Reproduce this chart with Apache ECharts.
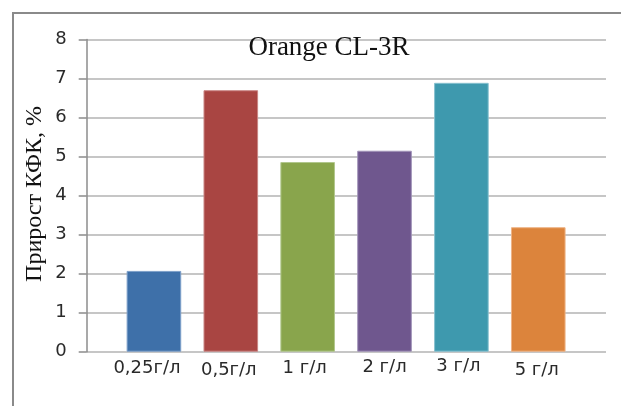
<!DOCTYPE html>
<html>
<head>
<meta charset="utf-8">
<script src="https://cdn.jsdelivr.net/npm/echarts@6/dist/echarts.min.js"></script>
<style>
  html, body { margin: 0; padding: 0; background: #fff; }
  #chart { width: 621px; height: 406px; }
</style>
</head>
<body>
<div id="chart"></div>
<script>
// Concentrations of the additive and the resulting gain
const categories = ['0,25г/л', '0,5г/л', '1 г/л', '2 г/л', '3 г/л', '5 г/л'];
const gainValues = [2.07, 6.70, 4.86, 5.15, 6.89, 3.19];
const yTicks = [0, 1, 2, 3, 4, 5, 6, 7, 8];

const barColors = ['#3e70a9', '#a94542', '#89a54c', '#6f578e', '#3e99ae', '#dc843c'];
const barEdges  = ['#7d9fc9', '#c98583', '#b1c78d', '#a193b9', '#86c0cf', '#eeb386'];
const labelShift = [[0, 14, 0, 0], [2, 4, 0, 0], [0, 6, 0, 0], [-1, 0, 0, 0], [-2, 6, 0, 0], [2, 3, 0, 0]];

const chart = echarts.init(document.getElementById('chart'), null, { renderer: 'canvas' });

const gridTop = 39.5, gridBottom = 54.3;

chart.setOption({
  animation: false,
  backgroundColor: '#ffffff',
  title: {
    text: 'Orange CL-3R',
    left: 324, top: 29, textAlign: 'center',
    textStyle: { fontFamily: 'Liberation Serif', fontSize: 27, fontWeight: 'normal', color: '#111' }
  },
  graphic: [
    {
      type: 'rect', silent: true, z: -10,
      shape: { x: 13, y: 13, width: 700, height: 500 },
      style: { fill: 'none', stroke: '#8a8a8a', lineWidth: 2 }
    },
    {
      type: 'text', silent: true,
      x: 35, y: 194, rotation: Math.PI / 2,
      style: {
        text: 'Прирост КФК, %',
        font: '24px "Liberation Serif"',
        fill: '#111', textAlign: 'center', textVerticalAlign: 'middle'
      }
    }
  ],
  grid: [
    { left: 86.7, right: 15, top: gridTop, bottom: gridBottom },
    { left: 115.5, right: 44.3, top: gridTop, bottom: gridBottom }
  ],
  xAxis: [
    { gridIndex: 0, type: 'category', data: [''], show: false },
    {
      gridIndex: 1, type: 'category', data: categories.map((c, i) => ({
        value: c, textStyle: { padding: labelShift[i] }
      })),
      axisLine: { show: false }, axisTick: { show: false },
      axisLabel: {
        interval: 0, margin: 8,
        fontFamily: 'DejaVu Sans', fontSize: 18, color: '#2a2a2a'
      }
    }
  ],
  yAxis: [
    {
      gridIndex: 0, type: 'value', min: yTicks[0], max: yTicks[yTicks.length - 1], interval: 1,
      axisLine: { show: true, lineStyle: { color: '#8c8c8c', width: 1.5 } },
      axisTick: { show: true, length: 8, lineStyle: { color: '#8c8c8c', width: 1.5 } },
      splitLine: { show: true, lineStyle: { color: '#b3b3b3', width: 1.5 } },
      axisLabel: { margin: 20, fontFamily: 'DejaVu Sans', fontSize: 18, color: '#2a2a2a' }
    },
    { gridIndex: 1, type: 'value', min: 0, max: 8, show: false }
  ],
  series: [
    {
      type: 'bar', xAxisIndex: 1, yAxisIndex: 1,
      barWidth: 54.6,
      data: gainValues.map((v, i) => ({
        value: v,
        itemStyle: { color: barColors[i], borderColor: barEdges[i], borderWidth: 1 }
      }))
    }
  ]
});
</script>
</body>
</html>
